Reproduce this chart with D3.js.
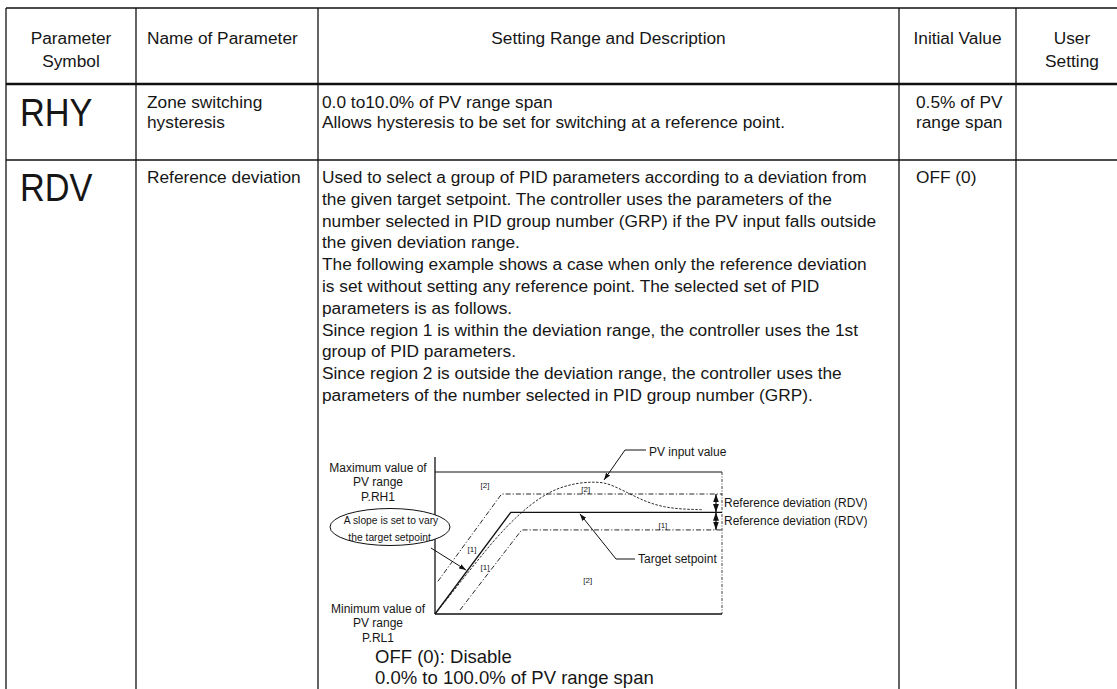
<!DOCTYPE html>
<html><head><meta charset="utf-8">
<script src="https://cdn.jsdelivr.net/npm/d3@7"></script>
<style>
body{margin:0;background:#fff;}
text{font-family:"Liberation Sans",Arial,Helvetica,sans-serif;fill:#161616;}
</style>
</head><body>
<svg id="c" width="1117" height="689"></svg>
<script>
// ---------- data ----------
const headerLabels = [["Parameter","Symbol"],["Name of Parameter"],["Setting Range and Description"],["Initial Value"],["User","Setting"]];
const symbols = ["RHY","RDV"];
const paramNames = [["Zone switching","hysteresis"],["Reference deviation"]];
const descriptions = [
  ["0.0 to10.0% of PV range span","Allows hysteresis to be set for switching at a reference point."],
  ["Used to select a group of PID parameters according to a deviation from",
   "the given target setpoint. The controller uses the parameters of the",
   "number selected in PID group number (GRP) if the PV input falls outside",
   "the given deviation range.",
   "The following example shows a case when only the reference deviation",
   "is set without setting any reference point. The selected set of PID",
   "parameters is as follows.",
   "Since region 1 is within the deviation range, the controller uses the 1st",
   "group of PID parameters.",
   "Since region 2 is outside the deviation range, the controller uses the",
   "parameters of the number selected in PID group number (GRP)."]
];
const initialValues = [["0.5% of PV","range span"],["OFF (0)"]];
const rangeOptions = ["OFF (0): Disable","0.0% to 100.0% of PV range span"];

// diagram series (time %, PV range %)
const targetSetpoint = [[0,0],[26.4,71.6],[100,71.6]];
const upperDeviation = [[1,23],[23.2,84.5],[100,84.5]];
const lowerDeviation = [[8.7,2.8],[30.2,59.2],[100,59.2]];
const pvInput = [[0,0],[5,12.5],[10,25.5],[15,38],[20,50.5],[25,61.5],[28,67.5],[31,73],[35,79.5],[40,86],[45,90],[50,92.3],[55,93],[59,92.6],[63,89.5],[67,85.5],[71,81.5],[75,78],[80,75.3],[85,74],[90,73.6],[93,73.5]];
const regionLabels = [
  {t:17.4,v:90.4,label:"[2]"},{t:52.5,v:87.8,label:"[2]"},
  {t:12.9,v:45.8,label:"[1]"},{t:17.4,v:32.9,label:"[1]"},
  {t:53.2,v:23.9,label:"[2]"},{t:79.4,v:62.7,label:"[1]"}
];
const maxLabel = ["Maximum value of","PV range","P.RH1"];
const minLabel = ["Minimum value of","PV range","P.RL1"];
const slopeNote = ["A slope is set to vary","the target setpoint."];

// ---------- layout ----------
const svg = d3.select("#c");
const colX = [6,136,318,899,1016,1128];
const rowY = [8,84,160,700];
const F = 17.3;

const tbl = svg.append("g");
tbl.append("line").attr("x1",colX[0]).attr("x2",1130).attr("y1",rowY[0]).attr("y2",rowY[0]).attr("stroke","#111").attr("stroke-width",1.3);
tbl.append("line").attr("x1",colX[0]).attr("x2",1130).attr("y1",rowY[1]).attr("y2",rowY[1]).attr("stroke","#111").attr("stroke-width",2.4);
tbl.append("line").attr("x1",colX[0]).attr("x2",1130).attr("y1",rowY[2]).attr("y2",rowY[2]).attr("stroke","#111").attr("stroke-width",1.3);
colX.forEach(x=>tbl.append("line").attr("x1",x).attr("x2",x).attr("y1",rowY[0]).attr("y2",rowY[3]).attr("stroke","#111").attr("stroke-width",1.3));

function lines(g, arr, x, y0, step, size, anchor){
  arr.forEach((s,i)=>g.append("text").attr("x",x).attr("y",y0+i*step).attr("dy","0.35em")
    .attr("font-size",size).attr("text-anchor",anchor||"start").text(s));
}
// header
lines(tbl, headerLabels[0], (colX[0]+colX[1])/2, 38, 23, F, "middle");
lines(tbl, headerLabels[1], 147, 38, 23, F, "start");
lines(tbl, headerLabels[2], (colX[2]+colX[3])/2, 38, 23, F, "middle");
lines(tbl, headerLabels[3], (colX[3]+colX[4])/2, 38, 23, F, "middle");
lines(tbl, headerLabels[4], (colX[4]+colX[5])/2, 38, 23, F, "middle");

// rows
const rowTop = [102,177];
symbols.forEach((s,i)=>{
  tbl.append("text").attr("transform",`translate(20,${rowTop[i]+10}) scale(0.88,1)`).attr("dy","0.35em")
    .attr("font-size",39).text(s);
  lines(tbl, paramNames[i], 147, rowTop[i], 20, F);
  lines(tbl, descriptions[i], 322, rowTop[i], i===0?20:21.8, F);
  lines(tbl, initialValues[i], 916, rowTop[i], 20, F);
});

// ---------- diagram ----------
const x = d3.scaleLinear().domain([0,100]).range([435,722]);
const y = d3.scaleLinear().domain([0,100]).range([614,472]);
const dg = svg.append("g");
const defs = svg.append("defs");
defs.append("marker").attr("id","ah").attr("viewBox","0 0 10 10").attr("refX",10).attr("refY",5)
  .attr("markerWidth",7).attr("markerHeight",7).attr("orient","auto-start-reverse")
  .append("path").attr("d","M0,1.5L10,5L0,8.5z").attr("fill","#111");

const line = d3.line().x(d=>x(d[0])).y(d=>y(d[1]));
dg.append("line").attr("x1",x(0)).attr("x2",x(0)).attr("y1",y(100)-15).attr("y2",y(0)).attr("stroke","#111").attr("stroke-width",1.3);
dg.append("line").attr("x1",x(0)).attr("x2",x(100)).attr("y1",y(100)).attr("y2",y(100)).attr("stroke","#111").attr("stroke-width",1.1);
dg.append("line").attr("x1",x(0)).attr("x2",x(100)).attr("y1",y(0)).attr("y2",y(0)).attr("stroke","#111").attr("stroke-width",1.4);
dg.append("line").attr("x1",x(100)).attr("x2",x(100)).attr("y1",y(100)).attr("y2",y(0)).attr("stroke","#111").attr("stroke-width",0.8).attr("stroke-dasharray","3,1.5,1,1.5");

dg.append("path").attr("d",line(upperDeviation)).attr("fill","none").attr("stroke","#111").attr("stroke-width",0.9).attr("stroke-dasharray","5,2,1.2,2");
dg.append("path").attr("d",line(lowerDeviation)).attr("fill","none").attr("stroke","#111").attr("stroke-width",0.9).attr("stroke-dasharray","5,2,1.2,2");
dg.append("path").attr("d",line(targetSetpoint)).attr("fill","none").attr("stroke","#111").attr("stroke-width",1.3);
dg.append("path").attr("d",d3.line().curve(d3.curveBasis).x(d=>x(d[0])).y(d=>y(d[1]))(pvInput))
  .attr("fill","none").attr("stroke","#111").attr("stroke-width",0.9).attr("stroke-dasharray","2.5,1.5");

regionLabels.forEach(r=>dg.append("text").attr("x",x(r.t)).attr("y",y(r.v)).attr("dy","0.35em")
  .attr("text-anchor","middle").attr("font-size",8).text(r.label));

lines(dg, maxLabel, 378, 467.5, 14.5, 12, "middle");
lines(dg, minLabel, 378, 608.5, 14.5, 12, "middle");

// slope note
dg.append("ellipse").attr("cx",390).attr("cy",527).attr("rx",60).attr("ry",18.5).attr("fill","#fff").attr("stroke","#111").attr("stroke-width",1);
lines(dg, slopeNote, 391, 520.5, 16.5, 10.3, "middle");
dg.append("line").attr("x1",431).attr("y1",548).attr("x2",466).attr("y2",570).attr("stroke","#111").attr("stroke-width",1).attr("marker-end","url(#ah)");

// PV input value callout
const pvTip = [x(58.9), y(94.4)];
dg.append("polyline").attr("points",`${pvTip[0]},${pvTip[1]} 625,450 646,450`).attr("fill","none").attr("stroke","#111").attr("stroke-width",1).attr("marker-start","url(#ah)");
dg.append("text").attr("x",649).attr("y",452).attr("dy","0.35em").attr("font-size",12).text("PV input value");

// Target setpoint callout
const tsTip = [x(50.5), y(70.5)];
dg.append("polyline").attr("points",`${tsTip[0]},${tsTip[1]} 616,559 635,559`).attr("fill","none").attr("stroke","#111").attr("stroke-width",1).attr("marker-start","url(#ah)");
dg.append("text").attr("x",638).attr("y",558.5).attr("dy","0.35em").attr("font-size",12).text("Target setpoint");

// RDV arrows
[[84.5,71.6],[71.6,59.2]].forEach((p,i)=>{
  dg.append("line").attr("x1",x(97.9)).attr("x2",x(97.9)).attr("y1",y(p[0])).attr("y2",y(p[1]))
    .attr("stroke","#111").attr("stroke-width",1.2).attr("marker-start","url(#ah)").attr("marker-end","url(#ah)");
  dg.append("text").attr("x",724).attr("y",(y(p[0])+y(p[1]))/2).attr("dy","0.35em").attr("font-size",12).text("Reference deviation (RDV)");
});

lines(svg, rangeOptions, 375, 657, 20.5, 18.5);
</script>
</body></html>
